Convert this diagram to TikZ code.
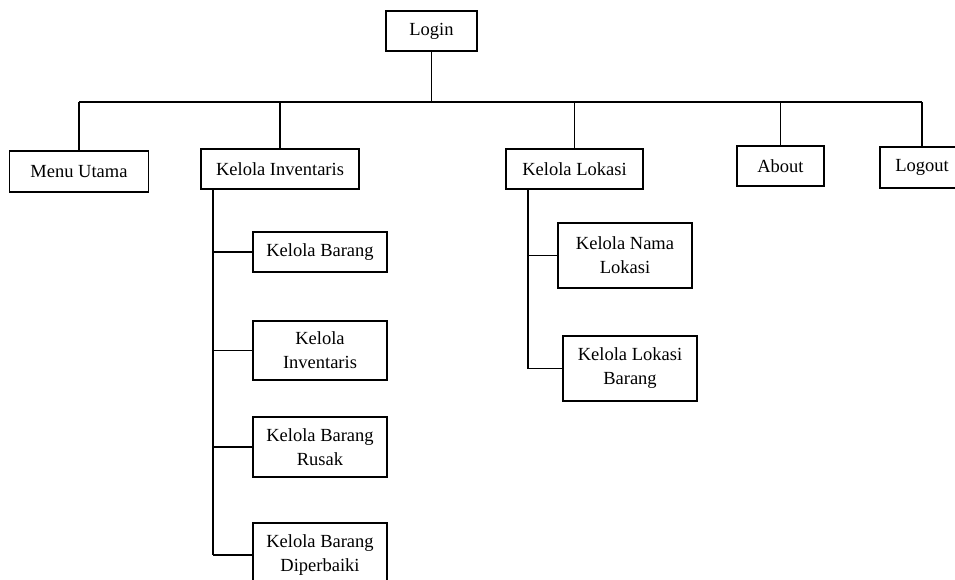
\documentclass[tikz,border=0pt]{standalone}
\usepackage{fontspec}
\setmainfont{Liberation Serif}
\begin{document}
\begin{tikzpicture}[x=1pt,y=-1pt,
  box/.style={draw, line width=1.5pt, inner sep=0pt, align=center,
    font=\fontsize{18.5}{24}\selectfont, minimum width=134pt},
  conn/.style={line width=1.5pt}]
\useasboundingbox (0,0) rectangle (955,579);
\clip (0,0) rectangle (955,579);
\fill[white] (0,0) rectangle (955,579);
% top level
\node[box, minimum width=91pt, minimum height=40pt] (login) at (431.5,31) {Login};
\node[box, minimum width=139pt, minimum height=41pt] (menu) at (79,171.5) {Menu Utama};
\node[box, minimum width=158pt, minimum height=40pt] (kinv) at (280,169) {Kelola Inventaris};
\node[box, minimum width=137pt, minimum height=40pt] (klok) at (574.5,169) {Kelola Lokasi};
\node[box, minimum width=87pt, minimum height=40pt] (about) at (780.5,166) {About};
\node[box, minimum width=84pt, minimum height=41pt] (logout) at (922,167.5) {Logout};
% inventaris children
\node[box, minimum height=40pt] (kbar) at (320,252) {Kelola Barang};
\node[box, minimum height=59pt] (kinv2) at (320,350.5) {Kelola\\Inventaris};
\node[box, minimum height=60pt] (krus) at (320,447) {Kelola Barang\\Rusak};
\node[box, minimum height=64pt] (kdip) at (320,555) {Kelola Barang\\Diperbaiki};
% lokasi children
\node[box, minimum height=65pt] (knama) at (625,255.5) {Kelola Nama\\Lokasi};
\node[box, minimum height=65pt] (klokb) at (630,368.5) {Kelola Lokasi\\Barang};
% bus
\coordinate (busL) at (79,102);
\coordinate (busR) at (922,102);
\draw[conn] (busL) -- (busR);
\draw[conn] (login.south) -- (login.south |- busL);
\foreach \n in {menu,kinv,klok,about,logout}
  \draw[conn] (\n.north) -- (\n.north |- busL);
% inventaris trunk
\coordinate (it) at (213,189);
\draw[conn] (it) -- (it |- kdip.west);
\foreach \n in {kbar,kinv2,krus,kdip}
  \draw[conn] (\n.west) -- (\n.west -| it);
% lokasi trunk
\coordinate (lt) at (528,189);
\draw[conn] (lt) -- (lt |- klokb.west);
\foreach \n in {knama,klokb}
  \draw[conn] (\n.west) -- (\n.west -| lt);
\end{tikzpicture}
\end{document}
